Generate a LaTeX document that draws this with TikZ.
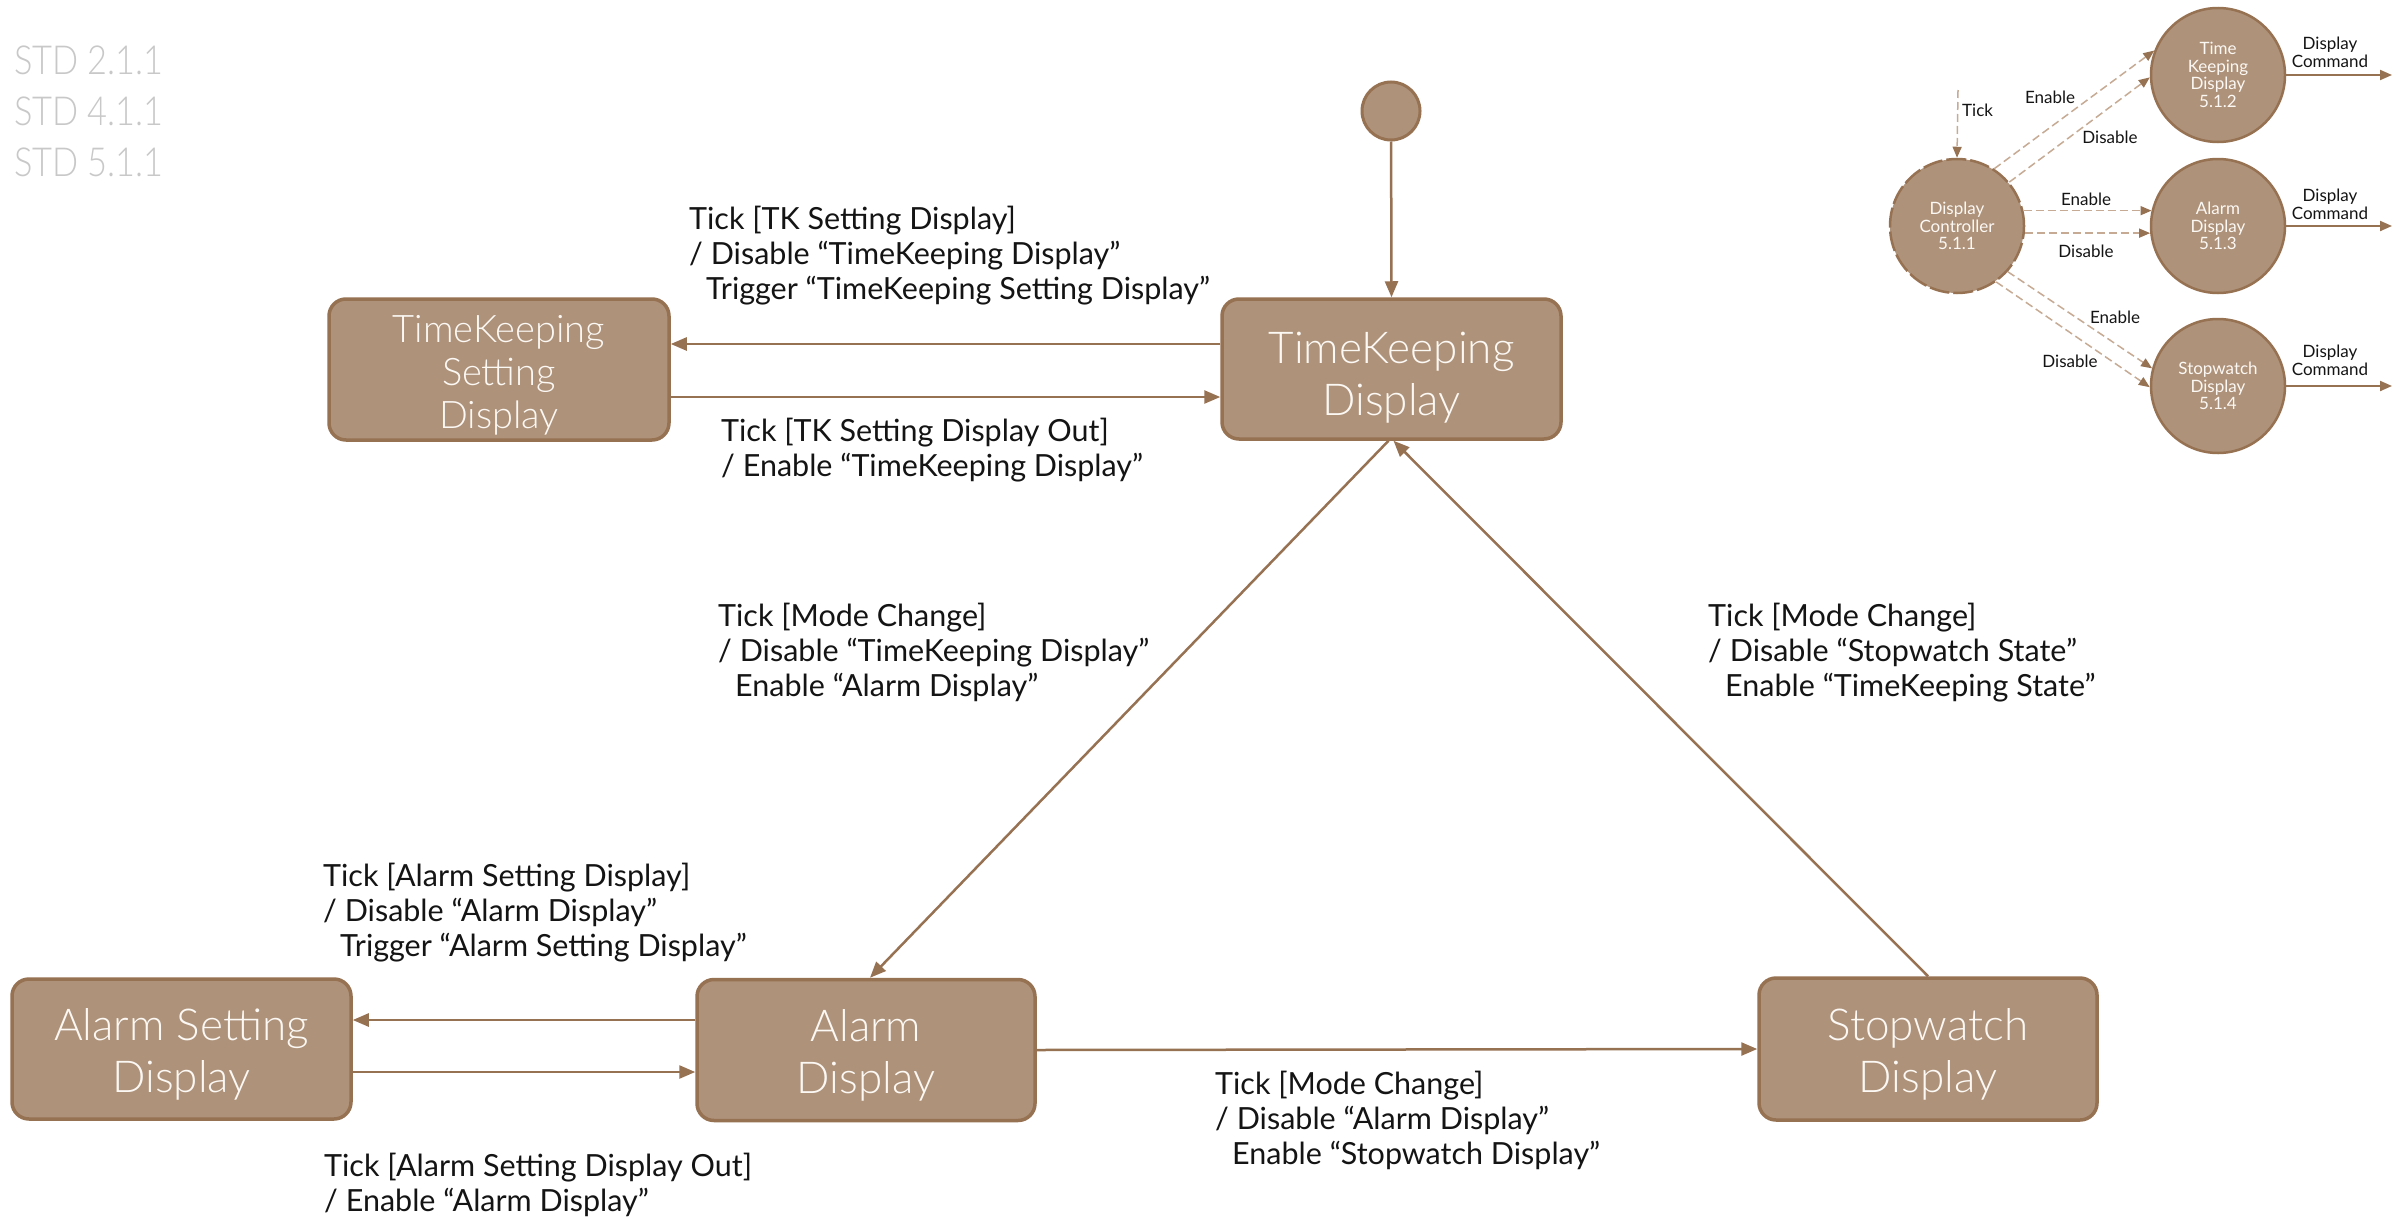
\documentclass[tikz,border=0pt]{standalone}
\usepackage{fontspec}
\setmainfont{Lato}
\newfontfamily\lightfont{Lato Light}
\newfontfamily\stdfont{Lato Light}[FakeStretch=0.86]
\usetikzlibrary{arrows.meta}

\definecolor{statefill}{RGB}{174,146,122}
\definecolor{stateline}{RGB}{150,113,82}
\definecolor{dashline}{RGB}{198,170,148}
\definecolor{stdgray}{RGB}{200,200,200}
\definecolor{statetext}{RGB}{252,248,244}
\definecolor{labeltext}{RGB}{20,20,20}

% invisible riser that drops a node's text block slightly inside its box
\newcommand{\riser}[1]{\rule{0pt}{#1}}

\tikzset{
  statebox/.style={draw=stateline, fill=statefill, line width=3.5pt,
    rounded corners=17pt, text=statetext, align=center, inner sep=0pt,
    font=\lightfont\fontsize{44pt}{52pt}\selectfont},
  initstate/.style={circle, draw=stateline, fill=statefill, line width=3pt,
    minimum size=58pt, inner sep=0pt},
  trans/.style={draw=stateline, line width=2.5pt,
    -{Triangle[length=16pt,width=13pt]}},
  guard/.style={anchor=north west, inner sep=0pt, align=left, text=labeltext,
    font=\fontsize{30.5pt}{35pt}\selectfont},
  proc/.style={circle, draw=stateline, fill=statefill, line width=2.5pt,
    minimum size=134pt, inner sep=0pt, align=center, text=statetext,
    font=\fontsize{17pt}{17.7pt}\selectfont},
  flow/.style={draw=dashline, line width=1.5pt, dash pattern=on 8pt off 4pt,
    -{Triangle[length=11pt,width=9pt,color=stateline]}},
  cmd/.style={draw=stateline, line width=2pt,
    -{Triangle[length=12pt,width=10pt]}},
  tiny/.style={text=labeltext, inner sep=0pt, align=center,
    font=\fontsize{17pt}{18pt}\selectfont},
}

\begin{document}
\begin{tikzpicture}[x=1pt, y=-1pt]
  \useasboundingbox[fill=white] (0,0) rectangle (2407,1218);

  % document references
  \node[anchor=north west, inner sep=0pt, align=left, text=stdgray,
        font=\stdfont\fontsize{40pt}{51pt}\selectfont] (std) at (14,46)
        {STD 2.1.1\\STD 4.1.1\\STD 5.1.1};

  % ---------------- state diagram ----------------
  \node[initstate] (init) at (1391,111) {};
  \node[statebox, minimum width=339pt, minimum height=140pt] (tkd) at (1391.5,369)
        {\riser{49pt}TimeKeeping\\Display};
  \node[statebox, minimum width=340pt, minimum height=141pt,
        font=\lightfont\fontsize{38pt}{43pt}\selectfont] (tks) at (499,369.5)
        {\riser{38pt}TimeKeeping\\Setting\\Display};
  \node[statebox, minimum width=339pt, minimum height=140pt] (asd) at (181.5,1049)
        {\riser{43pt}Alarm Setting\\Display};
  \node[statebox, minimum width=338pt, minimum height=141pt] (ad) at (866,1050)
        {\riser{43pt}Alarm\\Display};
  \node[statebox, minimum width=338pt, minimum height=142pt] (swd) at (1928,1049)
        {\riser{43pt}Stopwatch\\Display};

  \draw[trans] (init) -- (tkd.north);
  \draw[trans] (tkd.west |- 0,344) -- (tks.east |- 0,344);
  \draw[trans] (tks.east |- 0,397) -- (tkd.west |- 0,397);
  \draw[trans] (ad.west |- 0,1020) -- (asd.east |- 0,1020);
  \draw[trans] (asd.east |- 0,1072) -- (ad.west |- 0,1072);
  \draw[trans] (ad.east) -- (swd.west);
  \draw[trans] ([xshift=-3pt]tkd.south) -- ([xshift=4pt]ad.north);
  \draw[trans] (swd.north) -- ([xshift=2pt]tkd.south);

  % transition labels
  \node[guard] (g1) at (689,206)
    {Tick [TK Setting Display]\\/ Disable “TimeKeeping Display”\\\hspace*{17pt}Trigger “TimeKeeping Setting Display”};
  \node[guard] (g2) at (721,418)
    {Tick [TK Setting Display Out]\\/ Enable “TimeKeeping Display”};
  \node[guard] (g3) at (718,603)
    {Tick [Mode Change]\\/ Disable “TimeKeeping Display”\\\hspace*{17pt}Enable “Alarm Display”};
  \node[guard] (g4) at (1708,603)
    {Tick [Mode Change]\\/ Disable “Stopwatch State”\\\hspace*{17pt}Enable “TimeKeeping State”};
  \node[guard] (g5) at (323,863)
    {Tick [Alarm Setting Display]\\/ Disable “Alarm Display”\\\hspace*{17pt}Trigger “Alarm Setting Display”};
  \node[guard] (g6) at (324,1153)
    {Tick [Alarm Setting Display Out]\\/ Enable “Alarm Display”};
  \node[guard] (g7) at (1215,1071)
    {Tick [Mode Change]\\/ Disable “Alarm Display”\\\hspace*{17pt}Enable “Stopwatch Display”};

  % ---------------- data flow overview ----------------
  \node[proc, dash pattern=on 20pt off 4pt] (dc) at (1957,226)
        {Display\\Controller\\5.1.1};
  \node[proc] (tkc) at (2218,75) {Time\\Keeping\\Display\\5.1.2};
  \node[proc] (alc) at (2218,226) {Alarm\\Display\\5.1.3};
  \node[proc] (swc) at (2218,386) {Stopwatch\\Display\\5.1.4};

  \coordinate (tickin) at (1958,90);
  \draw[flow] (tickin) -- (dc.north);
  \node[tiny, anchor=west] (ticklbl) at (1962,110) {Tick};

  \draw[flow] (dc.57) -- (tkc.159);
  \draw[flow] (dc.40) -- (tkc.182);
  \draw[flow] (dc.13) -- (alc.167);
  \draw[flow] (dc.-6) -- (alc.186);
  \draw[flow] (dc.-42) -- (swc.165);
  \draw[flow] (dc.-55) -- (swc.181);

  \node[tiny] (en1) at (2050,97) {Enable};
  \node[tiny] (di1) at (2110,137) {Disable};
  \node[tiny] (en2) at (2086,199) {Enable};
  \node[tiny] (di2) at (2086,251) {Disable};
  \node[tiny] (en3) at (2115,317) {Enable};
  \node[tiny] (di3) at (2070,361) {Disable};

  \coordinate (out1) at (2392,75);
  \coordinate (out2) at (2392,226);
  \coordinate (out3) at (2392,386);
  \draw[cmd] (tkc.east) -- (out1);
  \draw[cmd] (alc.east) -- (out2);
  \draw[cmd] (swc.east) -- (out3);
  \node[tiny] (dc1) at (2330,52) {Display\\Command};
  \node[tiny] (dc2) at (2330,204) {Display\\Command};
  \node[tiny] (dc3) at (2330,360) {Display\\Command};
\end{tikzpicture}
\end{document}
